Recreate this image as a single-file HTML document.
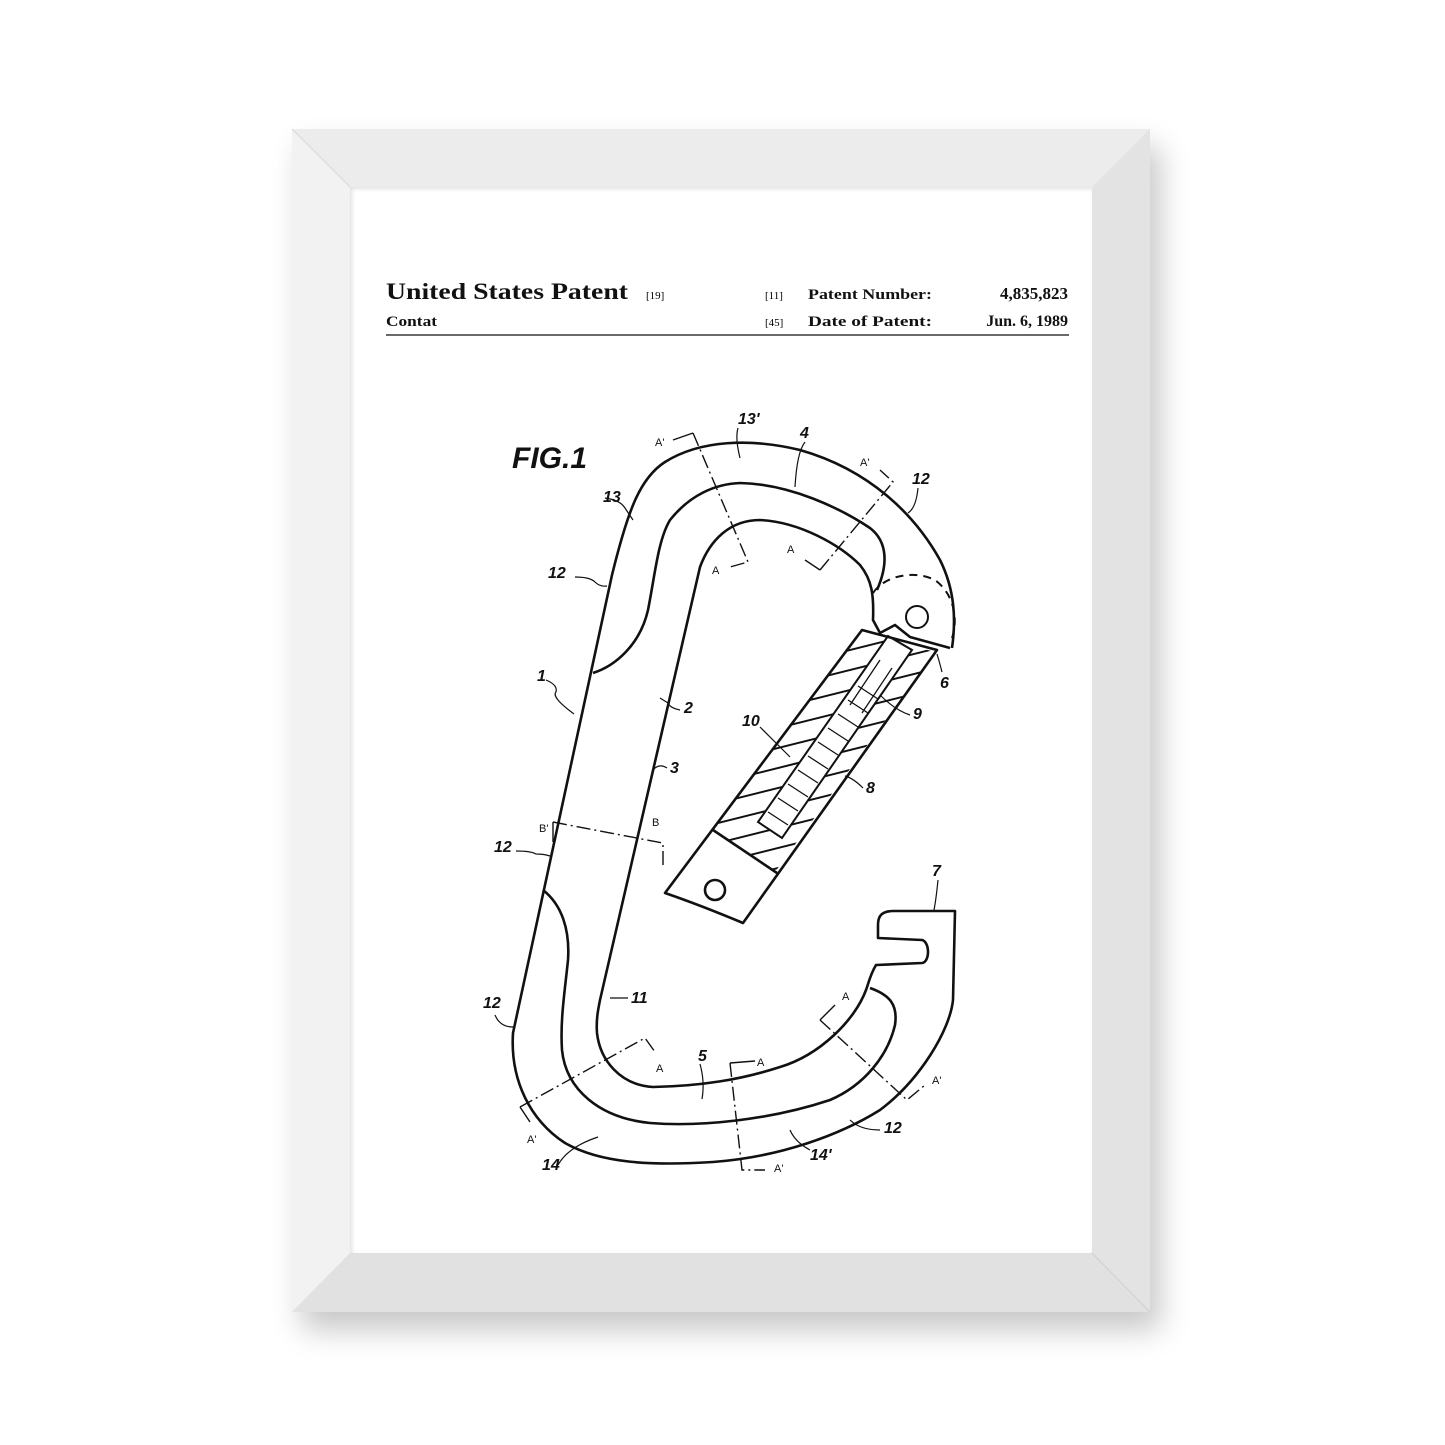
<!DOCTYPE html>
<html><head><style>
html,body{margin:0;padding:0;background:#fff;}
body{width:1445px;height:1445px;position:relative;overflow:hidden;}
.frame{position:absolute;left:292px;top:129px;width:858px;height:1183px;background:#ececec;box-shadow:10px 18px 28px rgba(0,0,0,0.22);}
.paper{position:absolute;left:350px;top:187px;width:742px;height:1066px;background:#fff;box-shadow:inset 2px 2px 4px rgba(0,0,0,0.12);}
svg{position:absolute;left:0;top:0;}
.t{font-family:"Liberation Serif",serif;font-weight:bold;fill:#111;}
.n{font-family:"Liberation Sans",sans-serif;font-style:italic;font-weight:bold;font-size:16px;fill:#111;}
.s{font-family:"Liberation Sans",sans-serif;font-size:11px;fill:#111;}
</style></head><body>
<div class="frame"></div>
<svg width="1445" height="1445">
<polygon points="292,129 350,187 350,1253 292,1312" fill="#f2f2f2"/>
<polygon points="1150,129 1092,187 1092,1253 1150,1312" fill="#e3e3e3"/>
<polygon points="292,1312 350,1253 1092,1253 1150,1312" fill="#e1e1e1"/>
<line x1="292" y1="129" x2="350" y2="187" stroke="#d8d8d8"/>
<line x1="1150" y1="1312" x2="1092" y2="1253" stroke="#cfcfcf"/>
</svg>
<div class="paper"></div>
<svg width="1445" height="1445">
<text x="386" y="299" class="t" font-size="23" textLength="242" lengthAdjust="spacingAndGlyphs">United States Patent</text>
<text x="646" y="299" font-family="Liberation Serif" font-size="11">[19]</text>
<text x="765" y="299" font-family="Liberation Serif" font-size="11">[11]</text>
<text x="808" y="299" class="t" font-size="15" textLength="124" lengthAdjust="spacingAndGlyphs">Patent Number:</text>
<text x="1068" y="299" class="t" font-size="17" text-anchor="end">4,835,823</text>
<text x="386" y="326" class="t" font-size="15" textLength="51" lengthAdjust="spacingAndGlyphs">Contat</text>
<text x="765" y="326" font-family="Liberation Serif" font-size="11">[45]</text>
<text x="808" y="326" class="t" font-size="15" textLength="124" lengthAdjust="spacingAndGlyphs">Date of Patent:</text>
<text x="1068" y="326" class="t" font-size="16" text-anchor="end">Jun. 6, 1989</text>
<line x1="386" y1="335" x2="1069" y2="335" stroke="#111" stroke-width="1.3"/>

<text x="512" y="468" font-family="Liberation Sans" font-style="italic" font-weight="bold" font-size="30" fill="#111">FIG.1</text>

<defs><clipPath id="hc"><path d="M862,632 L935,652 L775,872 L713,830 Z"/></clipPath></defs>
<g clip-path="url(#hc)" stroke="#111" stroke-width="2">
<path d="M650,700 l320,-80 M650,720 l320,-80 M650,740 l320,-80 M650,760 l320,-80 M650,780 l320,-80 M650,800 l320,-80 M650,820 l320,-80 M650,840 l320,-80 M650,860 l320,-80 M650,880 l320,-80 M650,900 l320,-80 M650,920 l320,-80 M650,940 l320,-80 M650,960 l320,-80"/>
</g>
<g stroke="#111" stroke-width="2" fill="#fff">
<path d="M888,636 L912,650 L782,838 L758,822 Z"/>
</g>
<g stroke="#111" stroke-width="1.3" fill="none">
<path d="M768,812 l20,13 M778,798 l20,13 M788,784 l20,13 M798,770 l20,13 M808,756 l20,13 M818,742 l20,13 M828,728 l20,13 M838,714 l20,13 M848,700 l20,13 M858,686 l20,13"/>
<path d="M880,660 l-30,45 M892,668 l-30,45"/>
</g>

<g fill="none" stroke="#111" stroke-width="2.6" stroke-linejoin="round">
<path d="M952,648 C956,620 955,590 940,560 C915,515 870,470 800,450 C750,438 700,440 665,462 C640,478 628,510 612,575 L513,1033 C510,1080 530,1120 565,1143 C600,1163 650,1166 713,1162 C780,1157 840,1135 880,1110 C920,1080 950,1030 953,1000 L955,911 L893,911 C880,911 878,918 878,925 L878,938 L922,940 C930,942 930,962 922,963 L876,965 C870,975 868,985 866,990 C855,1020 820,1055 780,1067 C740,1080 700,1086 653,1087 C620,1085 600,1060 597,1033 C596,1020 598,1010 600,1000 L700,567 C710,540 730,520 760,520 C800,522 840,545 860,565 C872,580 874,595 873,620 L880,633 L895,625 L910,637 L950,648"/>
<path d="M593,673 C615,666 640,645 648,610 C655,575 658,540 670,520 C690,495 715,484 740,483 C790,484 840,508 870,528 C888,542 888,565 877,590"/>
<path d="M543,890 C562,905 570,930 568,960 C565,990 560,1020 562,1050 C566,1090 600,1118 650,1123 C700,1127 770,1120 830,1100 C865,1085 888,1055 895,1025 C898,1005 890,995 870,988"/>
<path d="M862,630 L937,650 L743,923 Q700,905 665,893 Z"/>
<line x1="713" y1="830" x2="777" y2="873"/>
<circle cx="715" cy="890" r="10"/>
<circle cx="917" cy="617" r="11" stroke-width="2"/>
<path d="M873,593 C885,575 915,570 935,580 C955,595 958,620 952,638" stroke-dasharray="8,6" stroke-width="2"/>
</g>
<g fill="none" stroke="#111" stroke-width="1.4">
<path d="M693,433 L748,562 L730,567" stroke-dasharray="14,4,2,4"/>
<path d="M693,433 L673,440"/>
<path d="M820,570 L893,482 L880,470" stroke-dasharray="14,4,2,4"/>
<path d="M820,570 L805,560"/>
<path d="M553,822 L663,843 L663,865" stroke-dasharray="14,4,2,4"/>
<path d="M553,822 L553,842"/>
<path d="M520,1107 L645,1038 L655,1052" stroke-dasharray="14,4,2,4"/>
<path d="M520,1107 L530,1122"/>
<path d="M730,1063 L742,1170 L765,1170" stroke-dasharray="14,4,2,4"/>
<path d="M730,1063 L755,1061"/>
<path d="M820,1020 L907,1100 L925,1085" stroke-dasharray="14,4,2,4"/>
<path d="M820,1020 L835,1005"/>
</g>
<g>
<text x="655" y="446" class="s">A'</text><text x="738" y="424" class="n">13'</text><text x="800" y="438" class="n">4</text>
<text x="860" y="466" class="s">A'</text><text x="912" y="484" class="n">12</text><text x="603" y="502" class="n">13</text>
<text x="712" y="574" class="s">A</text><text x="787" y="553" class="s">A</text><text x="548" y="578" class="n">12</text>
<text x="940" y="688" class="n">6</text><text x="913" y="719" class="n">9</text><text x="537" y="681" class="n">1</text>
<text x="684" y="713" class="n">2</text><text x="742" y="726" class="n">10</text><text x="670" y="773" class="n">3</text>
<text x="866" y="793" class="n">8</text><text x="539" y="832" class="s">B'</text><text x="652" y="826" class="s">B</text>
<text x="494" y="852" class="n">12</text><text x="932" y="876" class="n">7</text><text x="842" y="1000" class="s">A</text>
<text x="631" y="1003" class="n">11</text><text x="483" y="1008" class="n">12</text><text x="656" y="1072" class="s">A</text>
<text x="698" y="1061" class="n">5</text><text x="757" y="1066" class="s">A</text><text x="932" y="1084" class="s">A'</text>
<text x="527" y="1143" class="s">A'</text><text x="542" y="1170" class="n">14</text><text x="810" y="1160" class="n">14'</text>
<text x="884" y="1133" class="n">12</text><text x="774" y="1172" class="s">A'</text>
</g>
<g fill="none" stroke="#111" stroke-width="1.2">
<path d="M575,577 q15,0 20,5 q5,5 12,4"/><path d="M516,851 q15,0 20,3 q8,0 14,2"/>
<path d="M546,680 q12,5 10,12 q-5,5 18,22"/><path d="M605,498 q15,2 20,10 l8,12"/>
<path d="M680,710 q-10,-2 -12,-7 l-8,-5"/><path d="M667,768 q-8,-5 -14,2"/>
<path d="M863,788 q-10,-10 -18,-12"/><path d="M760,727 l30,30"/><path d="M910,715 q-15,-5 -30,-20"/>
<path d="M942,672 q-2,-8 -5,-18"/><path d="M918,488 q-2,20 -10,25"/><path d="M938,880 q-2,20 -4,30"/>
<path d="M628,998 q-10,0 -18,0"/><path d="M495,1015 q5,12 18,12"/><path d="M700,1064 q5,18 2,35"/>
<path d="M558,1165 q10,-18 40,-28"/><path d="M810,1150 q-15,-8 -20,-20"/><path d="M880,1130 q-20,0 -30,-10"/>
<path d="M738,428 q-3,10 2,30"/><path d="M805,442 q-8,10 -10,45"/>
</g>
</svg>
</body></html>
